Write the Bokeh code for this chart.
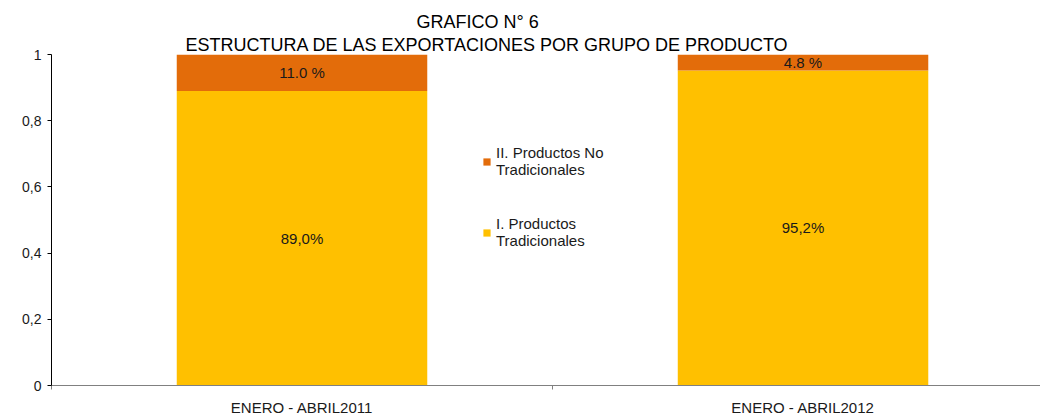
from bokeh.plotting import figure
from bokeh.models import (ColumnDataSource, FixedTicker, CustomJSTickFormatter, Title,
                          Legend, LegendItem)
from bokeh.core.properties import value
from bokeh.embed import file_html
from bokeh.resources import INLINE

categories = ["ENERO - ABRIL2011", "ENERO - ABRIL2012"]
tradicionales = [0.890, 0.952]
no_tradicionales = [0.110, 0.048]
label_trad = ["89,0%", "95,2%"]
label_notrad = ["11.0 %", "4.8 %"]
series_names = ["I. Productos\nTradicionales", "II. Productos No\nTradicionales"]
y_ticks = [0, 0.2, 0.4, 0.6, 0.8, 1.0]

FONT = "Liberation Sans"
YELLOW = "#FFC000"
ORANGE = "#E36C0A"
TXT = "#1a1a1a"

xpos = [i + 0.5 for i in range(len(categories))]
top1 = [a + b for a, b in zip(tradicionales, no_tradicionales)]
src = ColumnDataSource(dict(
    x=xpos, t=tradicionales, n=no_tradicionales, top1=top1,
    ymid_t=[a / 2 for a in tradicionales],
    ymid_n=[a + b / 2 for a, b in zip(tradicionales, no_tradicionales)],
    lt=label_trad, ln=label_notrad,
))

p = figure(frame_width=989, frame_height=331, x_range=(0, 1.974), y_range=(0, 1),
           output_backend="svg", toolbar_location=None, title=None,
           min_border_left=51, min_border_right=0, min_border_top=54, min_border_bottom=28)
p.outline_line_color = None
p.background_fill_color = "white"

r_t = p.vbar(x="x", width=0.5, bottom=0, top="t", source=src, fill_color=YELLOW, line_color=None)
r_n = p.vbar(x="x", width=0.5, bottom="t", top="top1", source=src, fill_color=ORANGE, line_color=None)

p.text(x="x", y="ymid_t", text="lt", source=src, text_align="center", text_baseline="middle",
       text_font=value(FONT), text_font_size="15px", text_color=TXT)
p.text(x="x", y="ymid_n", text="ln", source=src, text_align="center", text_baseline="middle",
       text_font=value(FONT), text_font_size="15px", text_color=TXT)

# grid: only top line
p.xgrid.visible = False
p.ygrid.ticker = FixedTicker(ticks=[1.0])
p.ygrid.grid_line_color = "#8c8c8c"
p.ygrid.grid_line_width = 1

# y axis
p.yaxis.ticker = FixedTicker(ticks=y_ticks)
p.yaxis.formatter = CustomJSTickFormatter(code="""
if (tick == 0 || tick == 1) return tick.toFixed(0);
return tick.toFixed(1).replace('.', ',');
""")
p.yaxis.axis_line_color = "black"
p.yaxis.major_tick_line_color = "black"
p.yaxis.major_tick_out = 4
p.yaxis.major_tick_in = 0
p.yaxis.minor_tick_line_color = None
p.yaxis.major_label_text_font = FONT
p.yaxis.major_label_text_font_size = "14px"
p.yaxis.major_label_text_color = TXT
p.yaxis.major_label_standoff = 6

# x axis
p.xaxis.ticker = FixedTicker(ticks=xpos, minor_ticks=list(range(len(categories) + 1)))
p.xaxis.major_label_overrides = {x: c for x, c in zip(xpos, categories)}
p.xaxis.axis_line_color = "#808080"
p.xaxis.major_tick_line_color = None
p.xaxis.major_tick_out = 0
p.xaxis.minor_tick_line_color = "#808080"
p.xaxis.minor_tick_out = 4
p.xaxis.minor_tick_in = 0
p.xaxis.major_label_text_font = FONT
p.xaxis.major_label_text_font_size = "15px"
p.xaxis.major_label_text_color = TXT
p.xaxis.major_label_standoff = 9

# titles
t2 = Title(text="ESTRUCTURA DE LAS EXPORTACIONES POR GRUPO DE PRODUCTO", align="left", offset=134,
           text_font=FONT, text_font_size="18px", text_font_style="normal", text_color="black",
           standoff=0)
t1 = Title(text="GRAFICO N° 6", align="left", offset=365,
           text_font=FONT, text_font_size="18px", text_font_style="normal", text_color="black",
           standoff=2)
p.add_layout(t2, "above")
p.add_layout(t1, "above")

legend = Legend(items=[LegendItem(label=series_names[1], renderers=[r_n]),
                       LegendItem(label=series_names[0], renderers=[r_t])],
                location=(431, 136), background_fill_alpha=0, border_line_color=None,
                glyph_width=9, glyph_height=9, spacing=37,
                label_text_font=FONT, label_text_font_size="15px", label_text_color=TXT,
                label_text_line_height=1.0, label_standoff=5)
p.add_layout(legend, "center")

open("out.html", "w").write(file_html(p, INLINE))
